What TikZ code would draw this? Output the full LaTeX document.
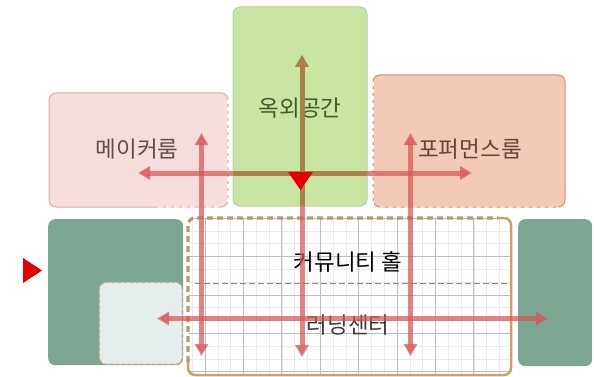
\documentclass[tikz,border=0pt]{standalone}
\usepackage{fontspec}
\newfontfamily\kr{Noto Sans CJK KR}
\usetikzlibrary{arrows.meta}
\definecolor{pinkfill}{RGB}{246,221,219}
\definecolor{pinkline}{RGB}{222,172,170}
\definecolor{greenfill}{RGB}{200,229,164}
\definecolor{greenline}{RGB}{182,212,150}
\definecolor{orangefill}{RGB}{242,202,182}
\definecolor{orangeline}{RGB}{212,140,112}
\definecolor{darkgreen}{RGB}{124,166,146}
\definecolor{lightin}{RGB}{230,238,237}
\definecolor{tanline}{RGB}{204,160,104}
\definecolor{brdash}{RGB}{182,152,112}
\definecolor{middash}{RGB}{165,125,105}
\definecolor{arrred}{RGB}{218,84,84}
\definecolor{arrbrown}{RGB}{170,128,72}
\definecolor{gridl}{RGB}{234,234,234}
\definecolor{gridd}{RGB}{190,190,190}
\definecolor{txtpink}{RGB}{98,76,76}
\definecolor{txtgreen}{RGB}{62,92,42}
\definecolor{txtorange}{RGB}{104,66,56}
\definecolor{txtgray}{RGB}{60,60,60}
\definecolor{tri}{RGB}{228,0,0}
\tikzset{
  room/.style={rounded corners=7pt, line width=1pt},
  lbl/.style={font=\kr\fontsize{22.5}{22.5}\selectfont, inner sep=0pt},
  flow/.style={line width=5pt, {Triangle[width=13pt,length=12pt]}-{Triangle[width=13pt,length=12pt]}},
  flowred/.style={flow, draw=arrred, opacity=0.72},
  flowbrown/.style={flow, draw=arrbrown},
  bigdash/.style={draw=brdash, line width=3.2pt, dash pattern=on 6pt off 4pt},
}
\begin{document}
\begin{tikzpicture}[x=1pt,y=-1pt]
\useasboundingbox (0,0) rectangle (594,377);
% top rooms
\draw[room, fill=pinkfill, draw=pinkline] (49,93) rectangle (228,207);
\draw[room, fill=greenfill, draw=greenline] (233,7) rectangle (367,206);
\draw[room, fill=orangefill, draw=orangeline] (373,75) rectangle (565,207);
\draw[white, line width=1.2pt, dash pattern=on 4pt off 3pt] (228,100) -- (228,205);
\draw[white, line width=1.2pt, dash pattern=on 4pt off 3pt] (373,82) -- (373,205);
\draw[pinkfill!80!white, line width=1.2pt, dash pattern=on 5pt off 3pt] (158,207) -- (222,207);
\draw[orangefill!70!white, line width=1.2pt, dash pattern=on 5pt off 3pt] (380,207) -- (558,207);
% bottom side rooms
\node[fill=darkgreen, rounded corners=7pt, minimum width=135pt, minimum height=146pt, inner sep=0pt, anchor=north west] (lg) at (48,219) {};
\node[fill=lightin, draw=brdash!80!white, line width=1.3pt, dash pattern=on 4pt off 2pt, rounded corners=7pt, minimum width=83pt, minimum height=82pt, inner sep=0pt, anchor=south east] (li) at (183,365) {};
\node[fill=darkgreen, rounded corners=7pt, minimum width=74pt, minimum height=147pt, inner sep=0pt, anchor=north west] (rg) at (518,219) {};
% grid box
\begin{scope}
\clip[rounded corners=7pt] (188,218) rectangle (511,375);
\fill[white] (188,218) rectangle (511,375);
\foreach \i in {-2,...,25} \draw[gridl, line width=0.6pt] ({205+12.8*\i},218) -- ++(0,157);
\foreach \j in {0,...,12} \draw[gridl, line width=0.6pt] (188,{218.1+12.8*\j}) -- ++(323,0);
\foreach \i in {-1,...,8} \draw[gridd, line width=0.7pt] ({205+38.4*\i},218) -- ++(0,157);
\foreach \j in {0,...,4} \draw[gridd, line width=0.7pt] (188,{218.1+38.4*\j}) -- ++(323,0);
\end{scope}
\draw[tanline, line width=2.5pt, rounded corners=7pt] (498,218) -- (511,218) -- (511,375) -- (188,375) -- (188,362);
\draw[bigdash, rounded corners=7pt] (188,362) -- (188,218) -- (498,218);
\draw[middash, line width=1.6pt, dash pattern=on 6pt off 3pt] (195,283.5) -- (510,283.5);
% labels
\node[lbl, text=txtpink] (maker) at (137,149) {메이커룸};
\node[lbl, text=txtgreen] (outdoor) at (300,108) {옥외공간};
\node[lbl, text=txtorange] (perf) at (470,149) {포퍼먼스룸};
\node[lbl, text=black] (hall) at (348,262) {커뮤니티 홀};
\node[lbl, text=txtgray] (learn) at (348,325) {러닝센터};
% flow arrows
\coordinate (hl) at (138,173);
\coordinate (hr) at (472,173);
\coordinate (vt) at (302,55);
\coordinate (vb) at (302,357);
\coordinate (lt) at (201.5,133);
\coordinate (lb) at (201.5,356);
\coordinate (rt) at (410.5,133);
\coordinate (rb) at (410.5,356);
\coordinate (bl) at (157,318.5);
\coordinate (br) at (548,318.5);
\draw[flowred] (hl) -- (hr);
\draw[flowred] (vt) -- (vb);
\draw[flowred] (lt) -- (lb);
\draw[flowred] (rt) -- (rb);
\draw[flowred] (bl) -- (br);
\begin{scope}
\clip[rounded corners=6pt] (233.6,7.6) rectangle (366.4,205.4);
\draw[flowbrown] (hl) -- (hr);
\draw[flowbrown] (vt) -- (vb);
\end{scope}
% markers
\fill[tri] (288,172) -- (313,172) -- (300.5,190) -- cycle;
\fill[tri] (23,258) -- (42,270.5) -- (23,283) -- cycle;
\end{tikzpicture}
\end{document}
